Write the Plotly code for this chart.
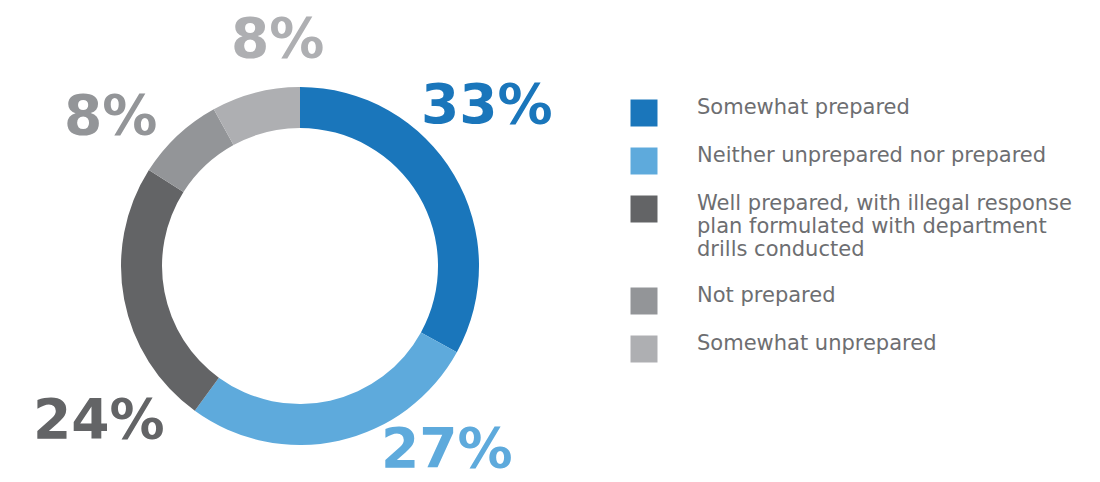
import plotly.graph_objects as go

# ---- data ----
categories = [
    "Somewhat prepared",
    "Neither unprepared nor prepared",
    "Well prepared, with illegal response<br>plan formulated with department<br>drills conducted",
    "Not prepared",
    "Somewhat unprepared",
]
values = [33, 27, 24, 8, 8]
colors = ["#1a76bb", "#5eaadc", "#636466", "#939598", "#aeafb2"]

# ---- styles / positions (not data) ----
W, H = 1100, 482
cx, cy, R = 300, 266, 179  # donut centre & radius in px
hole = 138 / 179
label_pos = [(487, 104), (447, 448), (99, 419), (110, 115), (277, 38)]  # px centres of % labels

fig = go.Figure()

fig.add_trace(go.Pie(
    labels=[c.replace("<br>", " ") for c in categories],
    values=values,
    marker=dict(colors=colors, line=dict(width=0)),
    hole=hole,
    sort=False,
    direction="clockwise",
    rotation=0,
    textinfo="none",
    hoverinfo="label+percent",
    showlegend=False,
    domain=dict(x=[(cx - R) / W, (cx + R) / W], y=[(H - cy - R) / H, (H - cy + R) / H]),
))

# percentage labels
for v, col, (px, py) in zip(values, colors, label_pos):
    fig.add_annotation(
        x=px / W, y=1 - py / H, xref="paper", yref="paper",
        text=f"<b>{v}%</b>", showarrow=False,
        xanchor="center", yanchor="middle",
        font=dict(family="DejaVu Sans", size=55, color=col),
    )

# legend drawn as a scatter on a pixel-like axis
start_y, gap, line_h = 113, 48, 22
marker_y, line_x, line_y, line_txt = [], [], [], []
y = start_y
x0 = 605
for c in categories:
    lines = c.split("<br>")
    marker_y.append(y)
    for i, ln in enumerate(lines):
        line_txt.append(ln)
        line_y.append(y - 4 + i * 23)
        line_x.append(697 - x0)
    y += gap + line_h * (len(lines) - 1)

fig.add_trace(go.Scatter(
    x=[644 - x0] * len(categories), y=marker_y, mode="markers",
    marker=dict(symbol="square", size=27, color=colors, line=dict(width=0)),
    hoverinfo="skip", showlegend=False, xaxis="x", yaxis="y",
))
fig.add_trace(go.Scatter(
    x=line_x, y=line_y, mode="text",
    text=line_txt, textposition="middle right",
    textfont=dict(family="DejaVu Sans", size=21, color="#6d6e71"),
    hoverinfo="skip", showlegend=False, xaxis="x", yaxis="y",
))

fig.update_layout(
    width=W, height=H,
    margin=dict(l=0, r=0, t=0, b=0),
    paper_bgcolor="white", plot_bgcolor="white",
    xaxis=dict(domain=[x0 / W, 1], range=[0, W - x0], visible=False, fixedrange=True),
    yaxis=dict(domain=[0, 1], range=[H, 0], visible=False, fixedrange=True),
    showlegend=False,
)

fig.write_html("out.html")
